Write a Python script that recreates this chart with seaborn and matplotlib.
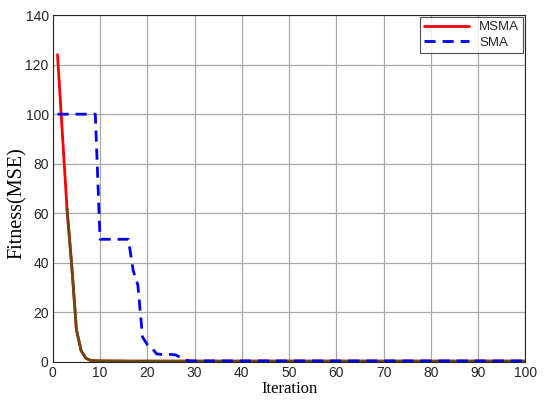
import numpy as np
import pandas as pd
import matplotlib
matplotlib.use("Agg")
import matplotlib.pyplot as plt
import seaborn as sns

iterations = list(range(1, 101))
msma_head = [124, 93, 62, 39, 13, 4.5, 1.5, 0.6, 0.45, 0.4, 0.38, 0.36, 0.35, 0.34, 0.33]
msma_tail_level = 0.3
sma_head = [100, 100, 100, 100, 100, 100, 100, 100, 100,
            49.5, 49.5, 49.5, 49.5, 49.5, 49.5, 49.5,
            37, 31, 10, 7, 5.5, 3.2, 3, 3, 3, 2.8, 1.8, 0.8]
sma_tail_level = 0.4

msma = msma_head + [msma_tail_level] * (len(iterations) - len(msma_head))
sma = sma_head + [sma_tail_level] * (len(iterations) - len(sma_head))

df = pd.DataFrame({"Iteration": iterations, "MSMA": msma, "SMA": sma})

sns.set_theme(style="white")
plt.rcParams['font.family'] = ['Liberation Sans', 'DejaVu Sans']

fig = plt.figure(figsize=(5.5, 4.08), dpi=100)
ax = fig.add_axes([0.096, 0.113, 0.859, 0.850])

sns.lineplot(data=df, x="Iteration", y="MSMA", ax=ax, color="#ff0000", linewidth=2, label="MSMA")
# darker overlapped part of MSMA curve (as in the reference)
sub = df[df["Iteration"] >= 3]
sns.lineplot(data=sub, x="Iteration", y="MSMA", ax=ax, color="#6a4a12", linewidth=2, legend=False)
sns.lineplot(data=df, x="Iteration", y="SMA", ax=ax, color="#0000ee", linewidth=2,
             linestyle=(0, (4, 2.5)), label="SMA")

ax.set_xlim(0, 100)
ax.set_ylim(0, 140)
ax.set_xticks(np.arange(0, 101, 10))
ax.set_yticks(np.arange(0, 141, 20))
ax.grid(True, color="#a8a8a8", linewidth=0.9)
ax.tick_params(direction="in", length=3, labelsize=10, colors="#262626", pad=3)
for s in ax.spines.values():
    s.set_color("#262626")
    s.set_linewidth(0.8)

ax.set_xlabel("Iteration", fontfamily=["Liberation Serif"], fontsize=12, color="#000000", labelpad=1)
ax.set_ylabel("Fitness(MSE)", fontfamily=["Liberation Serif"], fontsize=14.5, color="#000000")
ax.yaxis.set_label_coords(-0.055, 0.458)

leg = ax.legend(loc="upper right", fontsize=9.5, frameon=True, fancybox=False,
                edgecolor="#262626", handlelength=3.4, borderaxespad=0.15,
                labelspacing=0.25, borderpad=0.3, handletextpad=0.8)
leg.get_frame().set_linewidth(0.8)

fig.savefig("out.png", dpi=100)
